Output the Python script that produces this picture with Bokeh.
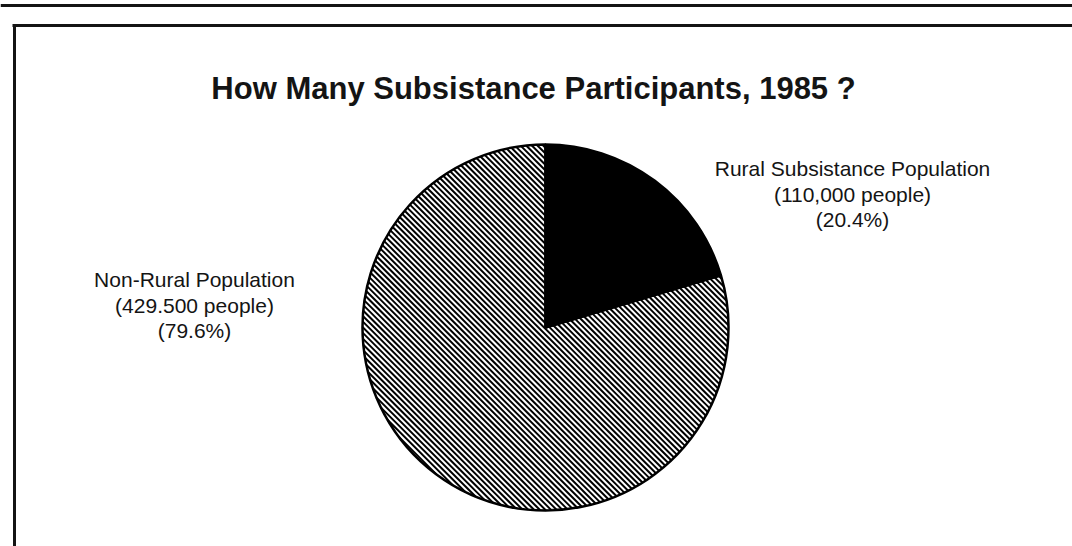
import math
from bokeh.plotting import figure
from bokeh.models import ColumnDataSource, Range1d
from bokeh.core.properties import value
from bokeh.embed import file_html
from bokeh.resources import INLINE

# ---- data ----
title_text = "How Many Subsistance Participants, 1985 ?"
categories = ["Rural Subsistance Population", "Non-Rural Population"]
people = [110000, 429500]
count_labels = ["(110,000 people)", "(429.500 people)"]
pct_labels = ["(20.4%)", "(79.6%)"]

# ---- layout (pixel coordinates inside the figure) ----
W, H = 1072, 546
cx, cy, R = 545, 219, 183
label_anchor = [(852, 378), (194, 267)]
line_gap = 25.5
FONT = "Liberation Sans"
INK = "#141414"

p = figure(width=W, height=H, output_backend="svg", toolbar_location=None,
           x_range=Range1d(0, W), y_range=Range1d(0, H),
           min_border=0, border_fill_color="white", background_fill_color="white")
p.axis.visible = False
p.grid.visible = False
p.outline_line_color = None

# frame lines
p.segment(x0=[0], y0=[541], x1=[W], y1=[541], line_color=INK, line_width=3)
p.segment(x0=[12], y0=[521], x1=[W], y1=[521], line_color=INK, line_width=3)
p.segment(x0=[14], y0=[0], x1=[14], y1=[522], line_color=INK, line_width=3)

# pie (start at 12 o'clock, clockwise)
total = sum(people)
starts, ends, sweeps = [], [], []
a = math.pi / 2
for v in people:
    sweep = 2 * math.pi * v / total
    starts.append(a)
    ends.append(a - sweep)
    sweeps.append(sweep)
    a -= sweep

src = ColumnDataSource(dict(start=starts, end=ends, fill=["#000000", "#ffffff"],
                            name=categories, people=people))
p.wedge(x=cx, y=cy, radius=R, start_angle="start", end_angle="end",
        direction="clock", source=src, fill_color="fill",
        line_color=None)

# diagonal hatching ("\") of the non-rural wedge, clipped to its sector
period = 4.0   # perpendicular spacing of hatch lines (px)
step = 0.25
hx, hy = [], []
d = (1 / math.sqrt(2), -1 / math.sqrt(2))
n = (1 / math.sqrt(2), 1 / math.sqrt(2))


def in_sector(x, y, k):
    th = math.atan2(y - cy, x - cx)
    rel = (starts[k] - th) % (2 * math.pi)
    return rel <= sweeps[k]


s = -R + period / 2
while s < R:
    h = math.sqrt(max(R * R - s * s, 0))
    bx, by = cx + n[0] * s, cy + n[1] * s
    run = None
    t = -h
    while t <= h:
        x, y = bx + d[0] * t, by + d[1] * t
        inside = in_sector(x, y, 1)
        if inside and run is None:
            run = [x, y]
        if (not inside or t + step > h) and run is not None:
            hx.append([run[0], x])
            hy.append([run[1], y])
            run = None
        t += step
    s += period
p.multi_line(xs=hx, ys=hy, line_color="#000000", line_width=2.0)

# pie outline on top
p.wedge(x=cx, y=cy, radius=R, start_angle="start", end_angle="end",
        direction="clock", source=src, fill_color=None,
        line_color="#000000", line_width=2.5)

# title
p.text(x=[533], y=[458], text=[title_text], text_font=value(FONT),
       text_font_style="bold", text_font_size="31px", text_align="center",
       text_baseline="alphabetic", text_color=INK)

# labels
xs, ys, ts = [], [], []
for (ax, ay), name, cnt, pct in zip(label_anchor, categories, count_labels, pct_labels):
    for i, t in enumerate([name, cnt, pct]):
        xs.append(ax)
        ys.append(ay - i * line_gap)
        ts.append(t)
p.text(x=xs, y=ys, text=ts, text_font=value(FONT), text_font_size="21px",
       text_align="center", text_baseline="alphabetic", text_color=INK)

open("out.html", "w").write(file_html(p, INLINE))
